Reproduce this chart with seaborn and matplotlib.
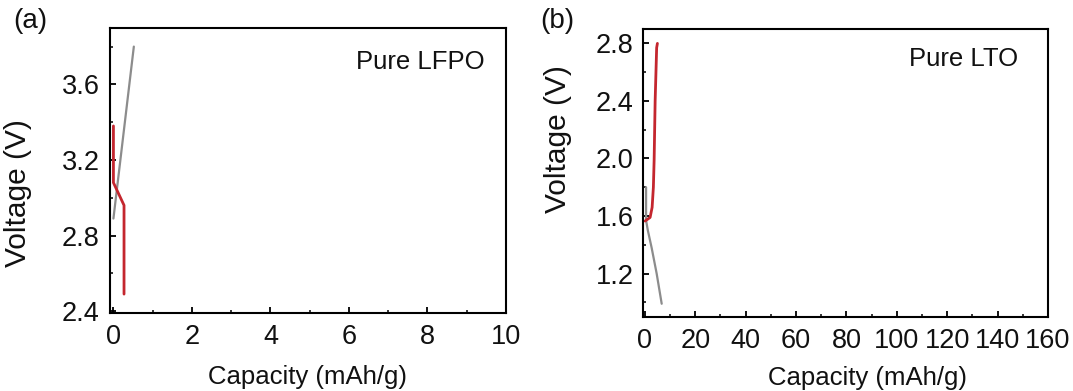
import matplotlib
matplotlib.use("Agg")
import matplotlib.pyplot as plt
from matplotlib.ticker import MultipleLocator
import pandas as pd
import seaborn as sns

# Pure LFPO half cell: charge (grey) and discharge (red) curves
lfpo_charge_cap = [0.0, 0.52]
lfpo_charge_v = [2.89, 3.80]
lfpo_dis_cap = [0.0, 0.0, 0.27, 0.27]
lfpo_dis_v = [3.38, 3.08, 2.96, 2.49]

# Pure LTO half cell: discharge (grey) and charge (red) curves
lto_dis_cap = [0.5, 0.5, 1.2, 2.7, 4.7, 6.7]
lto_dis_v = [1.80, 1.57, 1.50, 1.38, 1.20, 0.99]
lto_chg_cap = [0.1, 2.1, 2.9, 3.4, 3.7, 4.1, 4.7, 5.0]
lto_chg_v = [1.565, 1.59, 1.66, 1.80, 1.99, 2.40, 2.77, 2.80]

RED = "#c4262e"
GREY = "#8c8c8c"

sns.set_theme(style="ticks")
plt.rcParams["font.family"] = ["Liberation Sans", "DejaVu Sans"]
plt.rcParams["axes.linewidth"] = 1.5
plt.rcParams["text.color"] = "#111111"
plt.rcParams["axes.labelcolor"] = "#111111"

fig = plt.figure(figsize=(10.73, 3.91), dpi=100)
W, H = 1073, 391


def axes_px(l, t, r, b):
    return fig.add_axes([l / W, 1 - b / H, (r - l) / W, (b - t) / H])


ax1 = axes_px(109.5, 27.7, 506, 313)
ax2 = axes_px(643.3, 29, 1048, 316.7)

df_a1 = pd.DataFrame({"cap": lfpo_charge_cap, "v": lfpo_charge_v})
df_a2 = pd.DataFrame({"cap": lfpo_dis_cap, "v": lfpo_dis_v})
df_b1 = pd.DataFrame({"cap": lto_dis_cap, "v": lto_dis_v})
df_b2 = pd.DataFrame({"cap": lto_chg_cap, "v": lto_chg_v})

sns.lineplot(data=df_a1, x="cap", y="v", sort=False, estimator=None,
             color=GREY, lw=1.6, ax=ax1)
sns.lineplot(data=df_a2, x="cap", y="v", sort=False, estimator=None,
             color=RED, lw=2.0, ax=ax1)
sns.lineplot(data=df_b1, x="cap", y="v", sort=False, estimator=None,
             color=GREY, lw=1.6, ax=ax2)
sns.lineplot(data=df_b2, x="cap", y="v", sort=False, estimator=None,
             color=RED, lw=2.0, ax=ax2)

ax1.set_xlim(-0.1, 10)
ax1.set_ylim(2.39, 3.9)
ax1.xaxis.set_major_locator(MultipleLocator(2))
ax1.xaxis.set_minor_locator(MultipleLocator(1))
ax1.set_yticks([2.4, 2.8, 3.2, 3.6])
ax1.set_yticklabels(["2.4", "2.8", "3.2", "3.6"])
ax1.yaxis.set_minor_locator(MultipleLocator(0.2))

ax2.set_xlim(-0.6, 160)
ax2.set_ylim(0.9, 2.9)
ax2.xaxis.set_major_locator(MultipleLocator(20))
ax2.xaxis.set_minor_locator(MultipleLocator(10))
ax2.set_yticks([1.2, 1.6, 2.0, 2.4, 2.8])
ax2.set_yticklabels(["1.2", "1.6", "2.0", "2.4", "2.8"])
ax2.yaxis.set_minor_locator(MultipleLocator(0.2))

for ax in (ax1, ax2):
    for s in ax.spines.values():
        s.set_visible(True)
        s.set_linewidth(1.5)
        s.set_color("black")
    ax.tick_params(which="major", direction="in", length=4.5, width=1.3,
                   labelsize=19.5, colors="black", labelcolor="#111111", pad=7)
    ax.tick_params(which="minor", direction="in", length=2.5, width=1.1,
                   colors="black")
    ax.tick_params(axis="x", which="major", pad=8)
    ax.set_xlabel("Capacity (mAh/g)", fontsize=18.5)
    ax.set_ylabel("Voltage (V)", fontsize=21.5)

ax1.yaxis.set_label_coords(-0.195, 0.42)
ax1.xaxis.set_label_coords(0.5, -0.183)
ax2.yaxis.set_label_coords(-0.176, 0.618)
ax2.xaxis.set_label_coords(0.553, -0.17)

ax1.text(0.946, 0.88, "Pure LFPO", transform=ax1.transAxes, ha="right",
         va="center", fontsize=18.5)
ax2.text(0.926, 0.895, "Pure LTO", transform=ax2.transAxes, ha="right",
         va="center", fontsize=18.5)

fig.text(13 / W, 1 - 21 / H, "(a)", ha="left", va="center", fontsize=20)
fig.text(540 / W, 1 - 21 / H, "(b)", ha="left", va="center", fontsize=20)

fig.savefig("out.png", dpi=100, facecolor="white")
